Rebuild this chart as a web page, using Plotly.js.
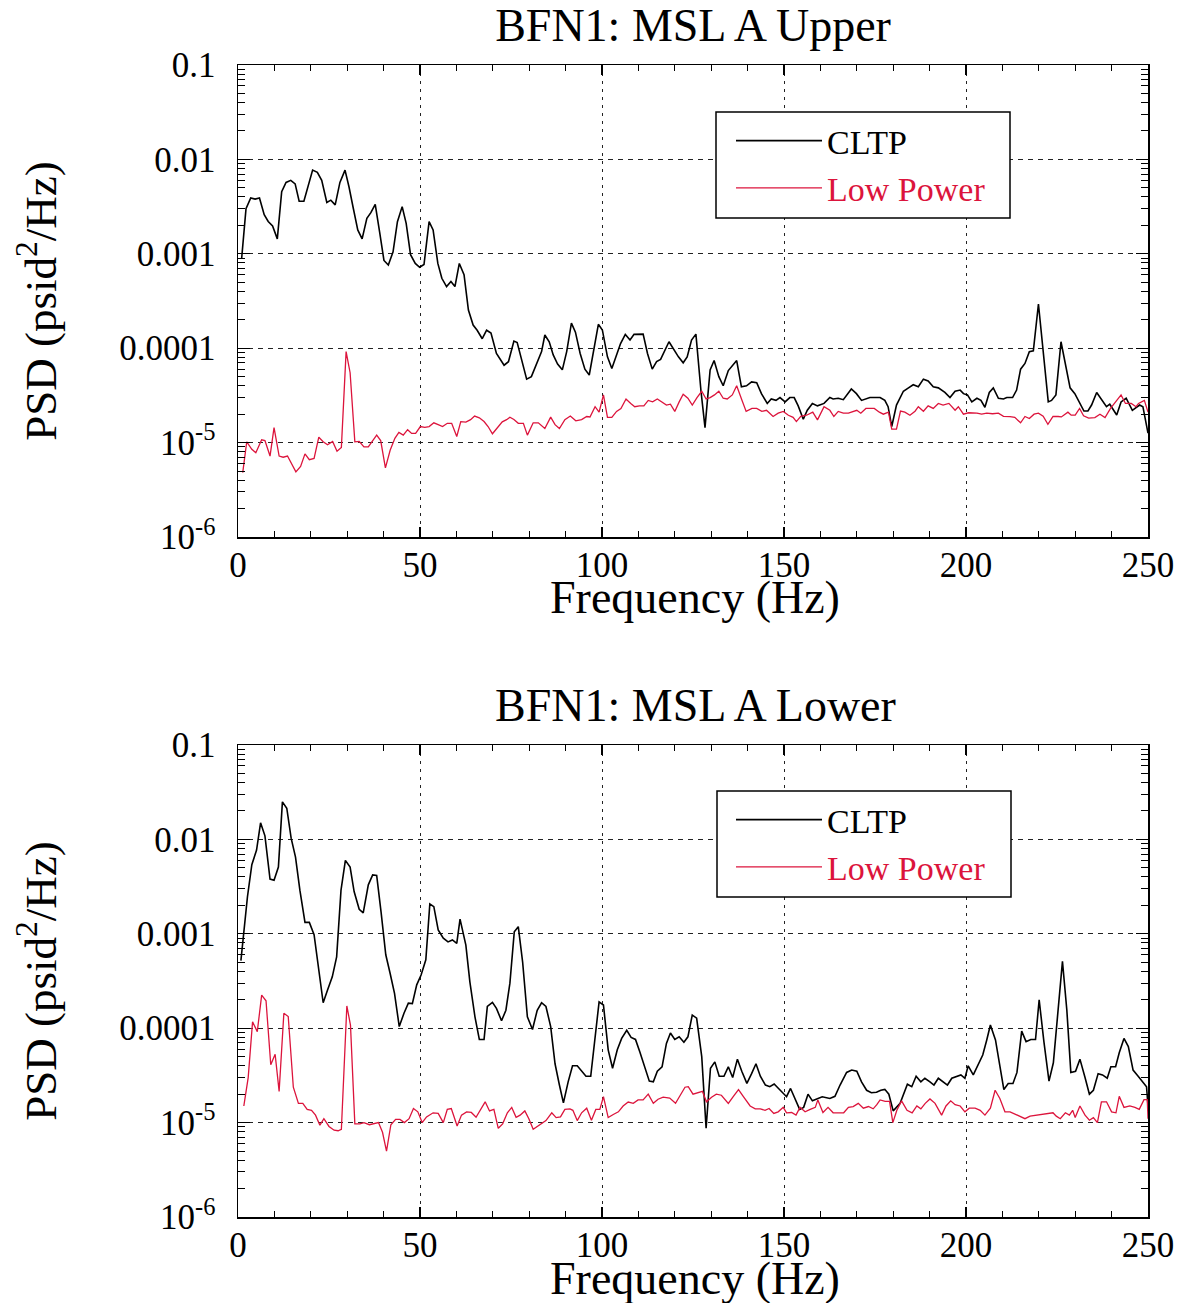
<!DOCTYPE html>
<html>
<head>
<meta charset="utf-8">
<script src="https://cdn.plot.ly/plotly-3.0.1.min.js"></script>
<style>
  html, body { margin: 0; padding: 0; background: #ffffff; }
  #chart { width: 1191px; height: 1303px; }
</style>
</head>
<body>
<div id="chart"></div>
<script>
// ---------- Titles & labels ----------
const topTitle = 'BFN1: MSL A Upper';
const bottomTitle = 'BFN1: MSL A Lower';
const xTitle = 'Frequency (Hz)';
const yTitle = 'PSD (psid<sup>2</sup>/Hz)';
const seriesNames = ['CLTP', 'Low Power'];
const xTickVals = [0, 50, 100, 150, 200, 250];
const xTickText = ['0', '50', '100', '150', '200', '250'];
const yTickVals = [1e-6, 1e-5, 1e-4, 1e-3, 1e-2, 1e-1];
const yTickText = ['10<sup>-6</sup>', '10<sup>-5</sup>', '0.0001', '0.001', '0.01', '0.1'];

// ---------- Upper: CLTP ----------
const upperCltpHz = [1.0,2.2,3.5,4.7,5.9,7.2,8.3,9.5,10.8,12.0,13.2,14.5,15.7,16.8,18.1,19.3,20.5,21.8,23.0,24.4,25.5,26.7,28.0,29.4,30.5,31.7,32.9,34.1,35.4,36.5,37.7,38.9,40.1,41.3,42.6,43.8,45.1,46.2,47.4,48.7,49.9,51.1,52.5,53.6,54.9,56.0,57.3,58.5,59.6,60.8,62.1,63.3,64.6,65.7,67.1,68.3,69.5,71.0,73.1,74.3,75.8,76.7,78.4,79.3,80.6,82.0,83.4,84.3,85.5,86.6,87.8,89.1,90.3,91.6,92.7,94.0,95.3,96.5,97.8,99.0,100.1,101.5,102.7,103.8,105.1,106.4,107.7,108.8,111.3,112.5,113.8,115.0,116.1,118.4,119.8,121.0,122.3,123.4,124.6,125.8,127.2,128.3,129.7,130.8,132.1,133.3,134.7,137.0,138.3,139.7,141.1,142.5,143.8,145.4,146.5,147.8,148.9,150.3,151.6,152.8,153.9,155.3,156.4,157.8,159.2,161.0,162.6,163.5,164.9,166.3,168.5,169.9,171.3,173.6,176.4,177.7,178.6,179.6,180.9,182.8,184.2,185.5,186.9,188.3,189.6,191.0,192.4,194.2,195.6,197.0,198.4,199.3,200.4,201.6,203.0,204.1,205.2,206.4,207.5,208.9,210.3,211.2,212.8,213.9,215.0,216.2,217.4,218.5,219.9,221.2,222.6,223.5,224.7,226.1,227.2,228.6,229.9,231.3,232.4,233.5,234.5,235.9,237.0,238.6,239.5,241.4,242.6,244.0,245.7,247.7,248.6,250.0];
const upperCltpPsd = [8.9e-4,3.0e-3,3.9e-3,3.8e-3,3.9e-3,2.6e-3,2.2e-3,1.97e-3,1.44e-3,4.55e-3,5.7e-3,6.0e-3,5.5e-3,3.6e-3,3.6e-3,5.4e-3,7.7e-3,7.3e-3,6.0e-3,3.5e-3,3.7e-3,3.3e-3,5.7e-3,7.7e-3,5.1e-3,3.0e-3,1.79e-3,1.44e-3,2.38e-3,2.73e-3,3.34e-3,1.71e-3,8.5e-4,7.6e-4,1.05e-3,2.19e-3,3.16e-3,2.1e-3,9.8e-4,7.9e-4,7.2e-4,7.7e-4,2.19e-3,1.79e-3,7.9e-4,5.5e-4,4.5e-4,5.1e-4,4.5e-4,7.9e-4,6.0e-4,2.54e-4,1.76e-4,1.55e-4,1.26e-4,1.55e-4,1.45e-4,8.8e-5,6.6e-5,7.2e-5,1.19e-4,1.15e-4,6.1e-5,4.7e-5,5.0e-5,6.9e-5,9.2e-5,1.38e-4,1.17e-4,8.5e-5,6.8e-5,5.9e-5,9.2e-5,1.84e-4,1.48e-4,8.8e-5,6.0e-5,5.2e-5,9.5e-5,1.79e-4,1.56e-4,8.1e-5,6.1e-5,8.1e-5,1.12e-4,1.4e-4,1.22e-4,1.4e-4,1.41e-4,8.8e-5,6.0e-5,7.2e-5,7.6e-5,1.17e-4,9.5e-5,8.1e-5,7.0e-5,8.1e-5,1.22e-4,1.41e-4,3.5e-5,1.44e-5,5.9e-5,7.4e-5,5.0e-5,4.0e-5,5.8e-5,7.4e-5,3.9e-5,4.0e-5,4.4e-5,4.3e-5,3.3e-5,2.6e-5,2.9e-5,2.8e-5,3.0e-5,2.7e-5,3.0e-5,3.0e-5,2.45e-5,1.77e-5,2.2e-5,2.6e-5,2.45e-5,2.6e-5,3.0e-5,2.9e-5,2.95e-5,2.85e-5,3.7e-5,3.3e-5,2.8e-5,3.0e-5,3.0e-5,2.8e-5,2.4e-5,1.48e-5,2.5e-5,3.5e-5,3.8e-5,4.1e-5,3.9e-5,4.7e-5,4.5e-5,3.9e-5,3.8e-5,3.4e-5,3.0e-5,3.5e-5,3.6e-5,3.3e-5,3.2e-5,2.7e-5,2.95e-5,2.8e-5,2.37e-5,3.4e-5,3.8e-5,2.95e-5,2.9e-5,3.0e-5,3.0e-5,3.6e-5,6.0e-5,6.9e-5,9.2e-5,9.4e-5,2.94e-4,8.8e-5,2.7e-5,2.8e-5,3.2e-5,1.17e-4,7.2e-5,3.8e-5,3.3e-5,2.6e-5,2.16e-5,2.16e-5,2.5e-5,3.4e-5,2.95e-5,2.4e-5,2.55e-5,1.96e-5,2.7e-5,2.95e-5,2.2e-5,2.5e-5,2.4e-5,1.26e-5];

// ---------- Upper: Low Power ----------
const upperLowHz = [1.3,2.4,3.8,4.9,6.5,7.4,8.8,9.9,11.3,12.4,13.6,14.7,15.9,17.2,18.4,19.6,20.9,22.2,23.4,24.6,26.0,27.2,28.4,29.7,30.8,32.1,33.3,34.6,35.8,38.1,39.2,40.5,41.8,43.1,44.2,45.4,46.6,47.7,48.8,50.1,51.3,52.5,53.8,55.0,56.2,57.5,58.7,60.1,61.2,62.6,63.9,65.0,66.3,67.6,68.7,69.9,71.3,72.6,73.8,74.7,75.8,77.0,78.4,79.5,81.1,82.5,84.3,85.9,87.1,88.3,89.8,91.3,92.8,94.4,95.8,96.7,98.1,99.2,100.4,101.5,102.7,104.0,105.2,106.6,107.9,109.0,110.3,111.5,112.7,113.9,115.2,116.4,117.7,118.8,120.0,121.2,122.3,123.6,124.8,126.1,127.4,128.6,129.7,130.9,132.1,133.3,134.4,135.8,137.0,138.4,139.6,141.2,142.5,143.9,145.2,147.0,148.4,149.8,151.2,152.5,153.4,154.6,156.2,157.9,159.2,161.0,162.6,163.7,164.9,166.3,167.7,170.0,171.1,172.5,174.8,176.2,177.3,178.7,179.6,180.9,182.0,183.2,184.6,186.0,186.9,188.3,189.6,191.0,192.4,193.7,195.3,197.0,197.9,199.3,200.7,203.0,204.3,205.7,207.3,208.9,210.3,212.1,213.4,215.0,216.2,217.4,218.7,219.9,221.2,222.5,223.9,225.3,226.2,228.0,228.9,230.0,231.2,232.3,233.7,235.4,236.8,238.2,239.7,242.6,243.8,245.4,246.7,247.4,249.0,250.0];
const upperLowPsd = [4.8e-6,1.02e-5,8.5e-6,7.8e-6,1.07e-5,1.05e-5,7.2e-6,1.44e-5,7.2e-6,7.0e-6,7.2e-6,6.0e-6,4.9e-6,5.6e-6,7.6e-6,6.6e-6,6.8e-6,1.14e-5,1.02e-5,9.5e-6,1.03e-5,8.1e-6,8.9e-6,9.2e-5,5.5e-5,1.02e-5,1.03e-5,9.0e-6,9.0e-6,1.2e-5,1.05e-5,5.4e-6,8.3e-6,1.11e-5,1.28e-5,1.2e-5,1.37e-5,1.25e-5,1.25e-5,1.48e-5,1.45e-5,1.48e-5,1.62e-5,1.55e-5,1.48e-5,1.6e-5,1.6e-5,1.16e-5,1.67e-5,1.65e-5,1.75e-5,1.91e-5,1.83e-5,1.67e-5,1.48e-5,1.24e-5,1.45e-5,1.66e-5,1.75e-5,1.86e-5,1.76e-5,1.6e-5,1.6e-5,1.2e-5,1.62e-5,1.62e-5,1.41e-5,1.86e-5,1.55e-5,1.41e-5,1.75e-5,1.91e-5,1.7e-5,1.75e-5,1.89e-5,1.87e-5,2.4e-5,2.1e-5,3.2e-5,1.85e-5,1.85e-5,2.14e-5,2.3e-5,2.9e-5,2.6e-5,2.4e-5,2.45e-5,2.45e-5,2.8e-5,2.7e-5,2.9e-5,2.7e-5,2.5e-5,2.55e-5,2.14e-5,2.7e-5,3.25e-5,2.95e-5,2.5e-5,3.0e-5,3.5e-5,2.9e-5,3.0e-5,3.2e-5,3.5e-5,2.95e-5,2.9e-5,3.2e-5,4.0e-5,2.85e-5,2.14e-5,2.3e-5,2.3e-5,2.14e-5,2.2e-5,1.89e-5,2.05e-5,2.14e-5,1.95e-5,1.85e-5,1.67e-5,1.9e-5,1.95e-5,2.1e-5,1.74e-5,2.4e-5,2.2e-5,1.89e-5,2.14e-5,2.05e-5,2.05e-5,2.2e-5,2.05e-5,2.3e-5,2.3e-5,2.1e-5,2.0e-5,2.1e-5,1.39e-5,1.39e-5,2.16e-5,2.1e-5,1.95e-5,2.15e-5,2.4e-5,2.15e-5,2.45e-5,2.3e-5,2.6e-5,2.5e-5,2.6e-5,2.2e-5,2.4e-5,2.0e-5,2.07e-5,2.05e-5,2.0e-5,2.05e-5,2.02e-5,2.05e-5,1.9e-5,1.88e-5,1.85e-5,1.62e-5,1.89e-5,1.8e-5,2.0e-5,2.05e-5,1.9e-5,1.56e-5,1.89e-5,1.89e-5,1.87e-5,2.1e-5,1.95e-5,1.95e-5,2.3e-5,1.92e-5,1.82e-5,1.84e-5,2.0e-5,1.84e-5,2.3e-5,3.2e-5,2.6e-5,2.6e-5,2.4e-5,2.6e-5,2.8e-5,2.1e-5];

// ---------- Lower: CLTP ----------
const lowerCltpHz = [0.8,2.6,3.8,5.1,6.2,7.4,8.8,9.9,11.1,12.2,13.4,14.6,15.8,17.0,18.4,19.6,20.9,22.0,23.4,24.6,25.9,27.1,28.3,29.5,30.8,31.9,33.3,34.4,35.8,37.0,38.1,39.3,40.6,41.8,43.0,44.3,45.6,46.8,47.9,49.1,50.3,51.6,52.7,53.8,55.0,56.4,57.7,58.9,60.1,61.0,62.6,63.7,65.1,66.3,67.6,68.5,69.9,71.0,72.4,73.6,74.7,75.9,77.0,78.2,79.5,80.9,82.2,83.4,84.6,85.9,87.1,88.3,89.4,90.7,91.9,93.2,94.4,95.6,96.9,98.1,99.2,100.4,101.7,102.9,104.2,105.4,106.8,108.0,109.2,110.4,111.8,113.0,114.1,115.2,116.5,117.7,118.8,120.0,121.2,122.5,123.6,124.8,126.0,127.4,128.6,129.8,131.0,132.2,133.5,134.7,135.9,137.2,138.4,139.8,141.1,142.3,143.5,144.9,146.1,147.3,148.5,149.8,150.7,151.8,153.0,154.3,155.4,156.6,157.8,159.3,160.5,162.6,164.0,165.4,167.2,168.6,170.0,171.3,172.7,174.0,175.4,176.6,177.7,178.8,180.0,181.9,182.8,183.9,185.1,186.3,187.6,188.7,190.1,191.2,192.4,193.7,194.9,196.1,197.5,198.6,199.7,200.6,202.0,203.4,204.6,205.7,206.7,208.1,209.3,210.4,211.6,212.9,214.0,215.3,216.5,217.8,219.1,220.1,221.4,222.8,224.0,225.1,226.5,227.7,228.8,230.1,231.3,232.7,233.9,235.0,236.3,237.5,238.8,239.8,241.1,242.1,243.4,244.6,245.9,247.3,248.5,249.6,250.0];
const lowerCltpPsd = [5.2e-4,2.47e-3,5.4e-3,7.7e-3,1.5e-2,1.09e-2,3.8e-3,3.7e-3,5.1e-3,2.5e-2,2.14e-2,1.03e-2,6.5e-3,2.9e-3,1.32e-3,1.32e-3,9.8e-4,4.9e-4,1.86e-4,2.54e-4,3.5e-4,5.7e-4,2.9e-3,6.0e-3,5.1e-3,2.8e-3,1.82e-3,1.67e-3,3.3e-3,4.2e-3,4.15e-3,1.71e-3,6.0e-4,3.8e-4,2.34e-4,1.04e-4,1.44e-4,1.84e-4,1.82e-4,2.88e-4,3.66e-4,5.3e-4,2.07e-3,1.94e-3,1.1e-3,9.0e-4,8.2e-4,8.6e-4,7.9e-4,1.43e-3,7.6e-4,3.1e-4,1.32e-4,7.6e-5,7.6e-5,1.7e-4,1.88e-4,1.62e-4,1.2e-4,1.55e-4,3.0e-4,1.05e-3,1.19e-3,5.0e-4,1.32e-4,9.7e-5,1.55e-4,1.86e-4,1.7e-4,1.04e-4,4.2e-5,2.5e-5,1.62e-5,2.7e-5,4.0e-5,4.0e-5,3.55e-5,3.1e-5,3.1e-5,7.5e-5,1.9e-4,1.76e-4,5.9e-5,3.76e-5,5.9e-5,7.8e-5,9.5e-5,8.0e-5,7.6e-5,5.6e-5,3.76e-5,2.75e-5,2.7e-5,3.5e-5,3.9e-5,6.9e-5,8.9e-5,7.6e-5,8.1e-5,7.1e-5,8.1e-5,1.38e-4,1.28e-4,5.0e-5,8.7e-6,3.76e-5,4.4e-5,3.1e-5,3.1e-5,3.9e-5,3.0e-5,4.7e-5,3.5e-5,2.6e-5,3.3e-5,4.2e-5,3.1e-5,2.5e-5,2.4e-5,2.56e-5,2.3e-5,2.07e-5,1.88e-5,2.3e-5,1.8e-5,1.38e-5,1.45e-5,2.0e-5,1.7e-5,1.78e-5,1.88e-5,1.8e-5,1.9e-5,2.5e-5,3.4e-5,3.6e-5,3.5e-5,2.7e-5,2.2e-5,2.07e-5,2.1e-5,2.2e-5,2.25e-5,2.0e-5,1.33e-5,1.6e-5,2.0e-5,2.55e-5,2.4e-5,3.1e-5,2.7e-5,2.95e-5,2.7e-5,2.5e-5,2.95e-5,2.7e-5,2.5e-5,2.95e-5,3.1e-5,3.2e-5,2.95e-5,4.0e-5,3.2e-5,4.2e-5,5.2e-5,7.5e-5,1.08e-4,7.5e-5,4.0e-5,2.24e-5,2.6e-5,2.6e-5,3.4e-5,9.3e-5,7.2e-5,7.6e-5,7.6e-5,2.0e-4,7.2e-5,2.75e-5,4.3e-5,1.3e-4,5.1e-4,1.56e-4,3.4e-5,3.5e-5,4.7e-5,3.0e-5,2.0e-5,2.2e-5,3.3e-5,3.2e-5,2.95e-5,3.9e-5,3.9e-5,5.5e-5,7.8e-5,6.4e-5,3.6e-5,3.1e-5,2.7e-5,2.4e-5,1.5e-5];

// ---------- Lower: Low Power ----------
const lowerLowHz = [1.6,2.8,4.0,5.3,6.5,7.7,9.0,10.2,11.3,12.6,13.8,15.2,16.6,17.8,19.0,20.2,21.3,22.5,23.6,25.0,26.4,27.5,28.4,29.9,30.9,32.1,33.5,34.6,36.1,37.4,38.6,39.7,40.8,42.0,43.3,44.5,45.7,47.0,48.2,49.4,50.6,51.8,53.6,55.0,56.4,57.5,58.6,60.2,61.4,62.8,64.1,65.4,66.7,67.9,69.1,70.3,71.5,72.7,74.0,75.2,76.4,77.5,78.8,79.9,81.1,82.9,84.6,86.2,87.4,88.6,89.8,91.2,92.0,93.2,94.4,95.8,97.1,98.3,99.4,100.4,101.7,103.1,104.5,105.8,107.2,108.6,109.9,111.3,112.7,114.1,115.4,116.8,118.6,120.2,121.4,122.8,123.7,125.0,127.6,128.7,130.1,131.4,132.8,134.7,136.1,137.5,138.8,140.7,142.1,143.5,144.8,145.9,147.2,148.4,149.8,150.7,152.1,153.3,154.4,155.8,157.2,158.6,159.3,160.7,162.1,163.5,164.6,166.4,167.7,169.0,170.4,171.8,173.2,174.5,175.5,176.4,177.8,179.0,179.9,181.0,182.3,183.8,185.2,186.5,187.6,188.8,190.1,191.5,193.3,194.5,195.8,197.0,198.4,199.7,200.9,202.5,203.9,205.2,206.7,208.0,209.3,210.7,212.1,213.9,216.2,217.6,219.9,222.2,223.9,224.8,225.9,227.3,228.4,229.3,230.0,231.3,232.7,233.9,235.0,236.1,237.2,238.6,240.0,241.2,242.1,243.4,245.0,246.4,247.6,248.9,249.8,250.0];
const lowerLowPsd = [1.5e-5,3.0e-5,1.17e-4,9.2e-5,2.24e-4,1.95e-4,4.1e-5,5.3e-5,2.14e-5,1.44e-4,1.33e-4,2.37e-5,1.6e-5,1.6e-5,1.38e-5,1.35e-5,1.2e-5,9.4e-6,1.1e-5,9.1e-6,8.3e-6,8.2e-6,8.5e-6,1.72e-4,1.08e-4,9.7e-6,9.7e-6,1.0e-5,9.5e-6,9.7e-6,1.0e-5,7.9e-6,5.0e-6,9.5e-6,1.08e-5,1.08e-5,1.0e-5,1.1e-5,1.41e-5,1.3e-5,1.0e-5,1.15e-5,1.27e-5,1.25e-5,1.0e-5,1.38e-5,1.41e-5,9.2e-6,1.2e-5,1.3e-5,1.28e-5,1.14e-5,1.38e-5,1.66e-5,1.33e-5,1.38e-5,8.7e-6,9.7e-6,1.27e-5,1.45e-5,1.14e-5,1.2e-5,1.33e-5,1.1e-5,8.5e-6,9.5e-6,1.05e-5,1.27e-5,1.13e-5,1.15e-5,1.38e-5,1.4e-5,1.35e-5,1.05e-5,1.27e-5,1.42e-5,1.06e-5,1.38e-5,1.38e-5,1.88e-5,1.13e-5,1.22e-5,1.3e-5,1.5e-5,1.65e-5,1.6e-5,1.74e-5,1.74e-5,2.0e-5,1.6e-5,1.77e-5,1.86e-5,1.82e-5,1.6e-5,1.9e-5,2.37e-5,2.4e-5,2.0e-5,2.14e-5,1.66e-5,1.86e-5,2.0e-5,1.95e-5,1.6e-5,1.9e-5,2.24e-5,1.9e-5,1.5e-5,1.4e-5,1.4e-5,1.35e-5,1.41e-5,1.25e-5,1.3e-5,1.45e-5,1.27e-5,1.28e-5,1.2e-5,1.45e-5,1.3e-5,1.38e-5,1.45e-5,1.74e-5,1.28e-5,1.45e-5,1.27e-5,1.27e-5,1.27e-5,1.45e-5,1.48e-5,1.6e-5,1.42e-5,1.48e-5,1.4e-5,1.55e-5,1.74e-5,1.68e-5,1.68e-5,1.0e-5,1.35e-5,1.7e-5,1.35e-5,1.27e-5,1.5e-5,1.4e-5,1.6e-5,1.78e-5,1.6e-5,1.2e-5,1.5e-5,1.7e-5,1.55e-5,1.5e-5,1.3e-5,1.42e-5,1.42e-5,1.35e-5,1.2e-5,1.42e-5,2.2e-5,1.8e-5,1.3e-5,1.3e-5,1.2e-5,1.1e-5,1.17e-5,1.2e-5,1.23e-5,1.27e-5,1.17e-5,1.1e-5,1.27e-5,1.2e-5,1.35e-5,1.13e-5,1.5e-5,1.2e-5,1.06e-5,1.13e-5,1.0e-5,1.66e-5,1.66e-5,1.3e-5,1.27e-5,1.9e-5,1.45e-5,1.5e-5,1.45e-5,1.38e-5,1.75e-5,1.75e-5,1.1e-5];

// ---------- Styling ----------
const FONT = 'Liberation Serif, Times New Roman, serif';
const BLACK = '#000000';
const RED = '#dc143c';
const W = 1191, H = 1303;
const px = v => v / W;          // horizontal pixel -> paper fraction
const py = v => 1 - v / H;      // vertical pixel (from top) -> paper fraction

const minorLogTicks = [];
for (let e = -6; e < -1; e++) {
  for (let m = 2; m <= 9; m++) minorLogTicks.push(m * Math.pow(10, e));
}

function xAxis(anchor) {
  return {
    anchor: anchor, domain: [px(238), px(1148)], range: [0, 250],
    tickmode: 'array', tickvals: xTickVals, ticktext: xTickText,
    ticks: 'inside', ticklen: 10, tickwidth: 1.2, tickcolor: BLACK,
    minor: { dtick: 10, ticks: 'inside', ticklen: 6, tickwidth: 1, tickcolor: BLACK, showgrid: false },
    showline: true, linecolor: BLACK, linewidth: 1.5, mirror: 'ticks',
    showgrid: true, gridcolor: '#222222', gridwidth: 1, griddash: '3px,5px',
    zeroline: false, automargin: false,
    ticklabelstandoff: -4,
    tickfont: { family: FONT, size: 35, color: BLACK }
  };
}
function yAxis(anchor, top, bottom) {
  return {
    anchor: anchor, domain: [py(bottom), py(top)], type: 'log', range: [-6, -1],
    tickmode: 'array', tickvals: yTickVals, ticktext: yTickText,
    ticks: 'inside', ticklen: 12, tickwidth: 1.2, tickcolor: BLACK,
    minor: { tickmode: 'array', tickvals: minorLogTicks, ticks: 'inside', ticklen: 7, tickwidth: 1, tickcolor: BLACK, showgrid: false },
    showline: true, linecolor: BLACK, linewidth: 1.5, mirror: 'ticks',
    showgrid: true, gridcolor: '#222222', gridwidth: 1, griddash: '5px,5px',
    zeroline: false, automargin: false,
    ticklabelstandoff: 14,
    tickfont: { family: FONT, size: 35, color: BLACK },
    title: { text: yTitle, font: { family: FONT, size: 45, color: BLACK }, standoff: 48 }
  };
}

const traces = [
  { x: upperCltpHz, y: upperCltpPsd, xaxis: 'x', yaxis: 'y', type: 'scatter', mode: 'lines',
    name: seriesNames[0], legend: 'legend', line: { color: BLACK, width: 1.6 } },
  { x: upperLowHz, y: upperLowPsd, xaxis: 'x', yaxis: 'y', type: 'scatter', mode: 'lines',
    name: '<span style="color:' + RED + '">' + seriesNames[1] + '</span>', legend: 'legend', line: { color: RED, width: 1.3 } },
  { x: lowerCltpHz, y: lowerCltpPsd, xaxis: 'x2', yaxis: 'y2', type: 'scatter', mode: 'lines',
    name: seriesNames[0], legend: 'legend2', line: { color: BLACK, width: 1.6 } },
  { x: lowerLowHz, y: lowerLowPsd, xaxis: 'x2', yaxis: 'y2', type: 'scatter', mode: 'lines',
    name: '<span style="color:' + RED + '">' + seriesNames[1] + '</span>', legend: 'legend2', line: { color: RED, width: 1.3 } }
];

function legendBox(yTopPx) {
  return {
    x: px(731), y: py(yTopPx), xanchor: 'left', yanchor: 'top',
    bgcolor: 'rgba(0,0,0,0)', borderwidth: 0,
    font: { family: FONT, size: 34, color: BLACK },
    itemwidth: 86, tracegroupgap: 0
  };
}
function legendFrame(x0, y0, x1, y1) {
  return { type: 'rect', xref: 'paper', yref: 'paper', layer: 'above',
           x0: px(x0), x1: px(x1), y0: py(y1), y1: py(y0),
           line: { color: BLACK, width: 1.5 }, fillcolor: '#ffffff' };
}
function xTitleAnn(yPx) {
  return { text: xTitle, xref: 'paper', yref: 'paper', x: px(695), y: py(yPx),
           xanchor: 'center', yanchor: 'middle', showarrow: false,
           font: { family: FONT, size: 46, color: BLACK } };
}

const layout = {
  width: W, height: H,
  margin: { l: 0, r: 0, t: 0, b: 0 },
  paper_bgcolor: '#ffffff', plot_bgcolor: '#ffffff',
  showlegend: true,
  title: { text: topTitle, x: px(693), xanchor: 'center', xref: 'paper',
           y: py(25), yanchor: 'middle', yref: 'paper',
           font: { family: FONT, size: 46, color: BLACK } },
  xaxis: xAxis('y'),
  yaxis: yAxis('x', 65, 537),
  xaxis2: xAxis('y2'),
  yaxis2: yAxis('x2', 745, 1217),
  legend: legendBox(112),
  legend2: legendBox(791),
  shapes: [ legendFrame(716, 112, 1010, 218), legendFrame(717, 791, 1011, 897) ],
  annotations: [
    { text: bottomTitle, xref: 'paper', yref: 'paper', x: px(695), y: py(705),
      xanchor: 'center', yanchor: 'middle', showarrow: false,
      font: { family: FONT, size: 46, color: BLACK } },
    xTitleAnn(598),
    xTitleAnn(1278)
  ]
};

Plotly.newPlot('chart', traces, layout, { staticPlot: true, displayModeBar: false });
</script>
</body>
</html>
